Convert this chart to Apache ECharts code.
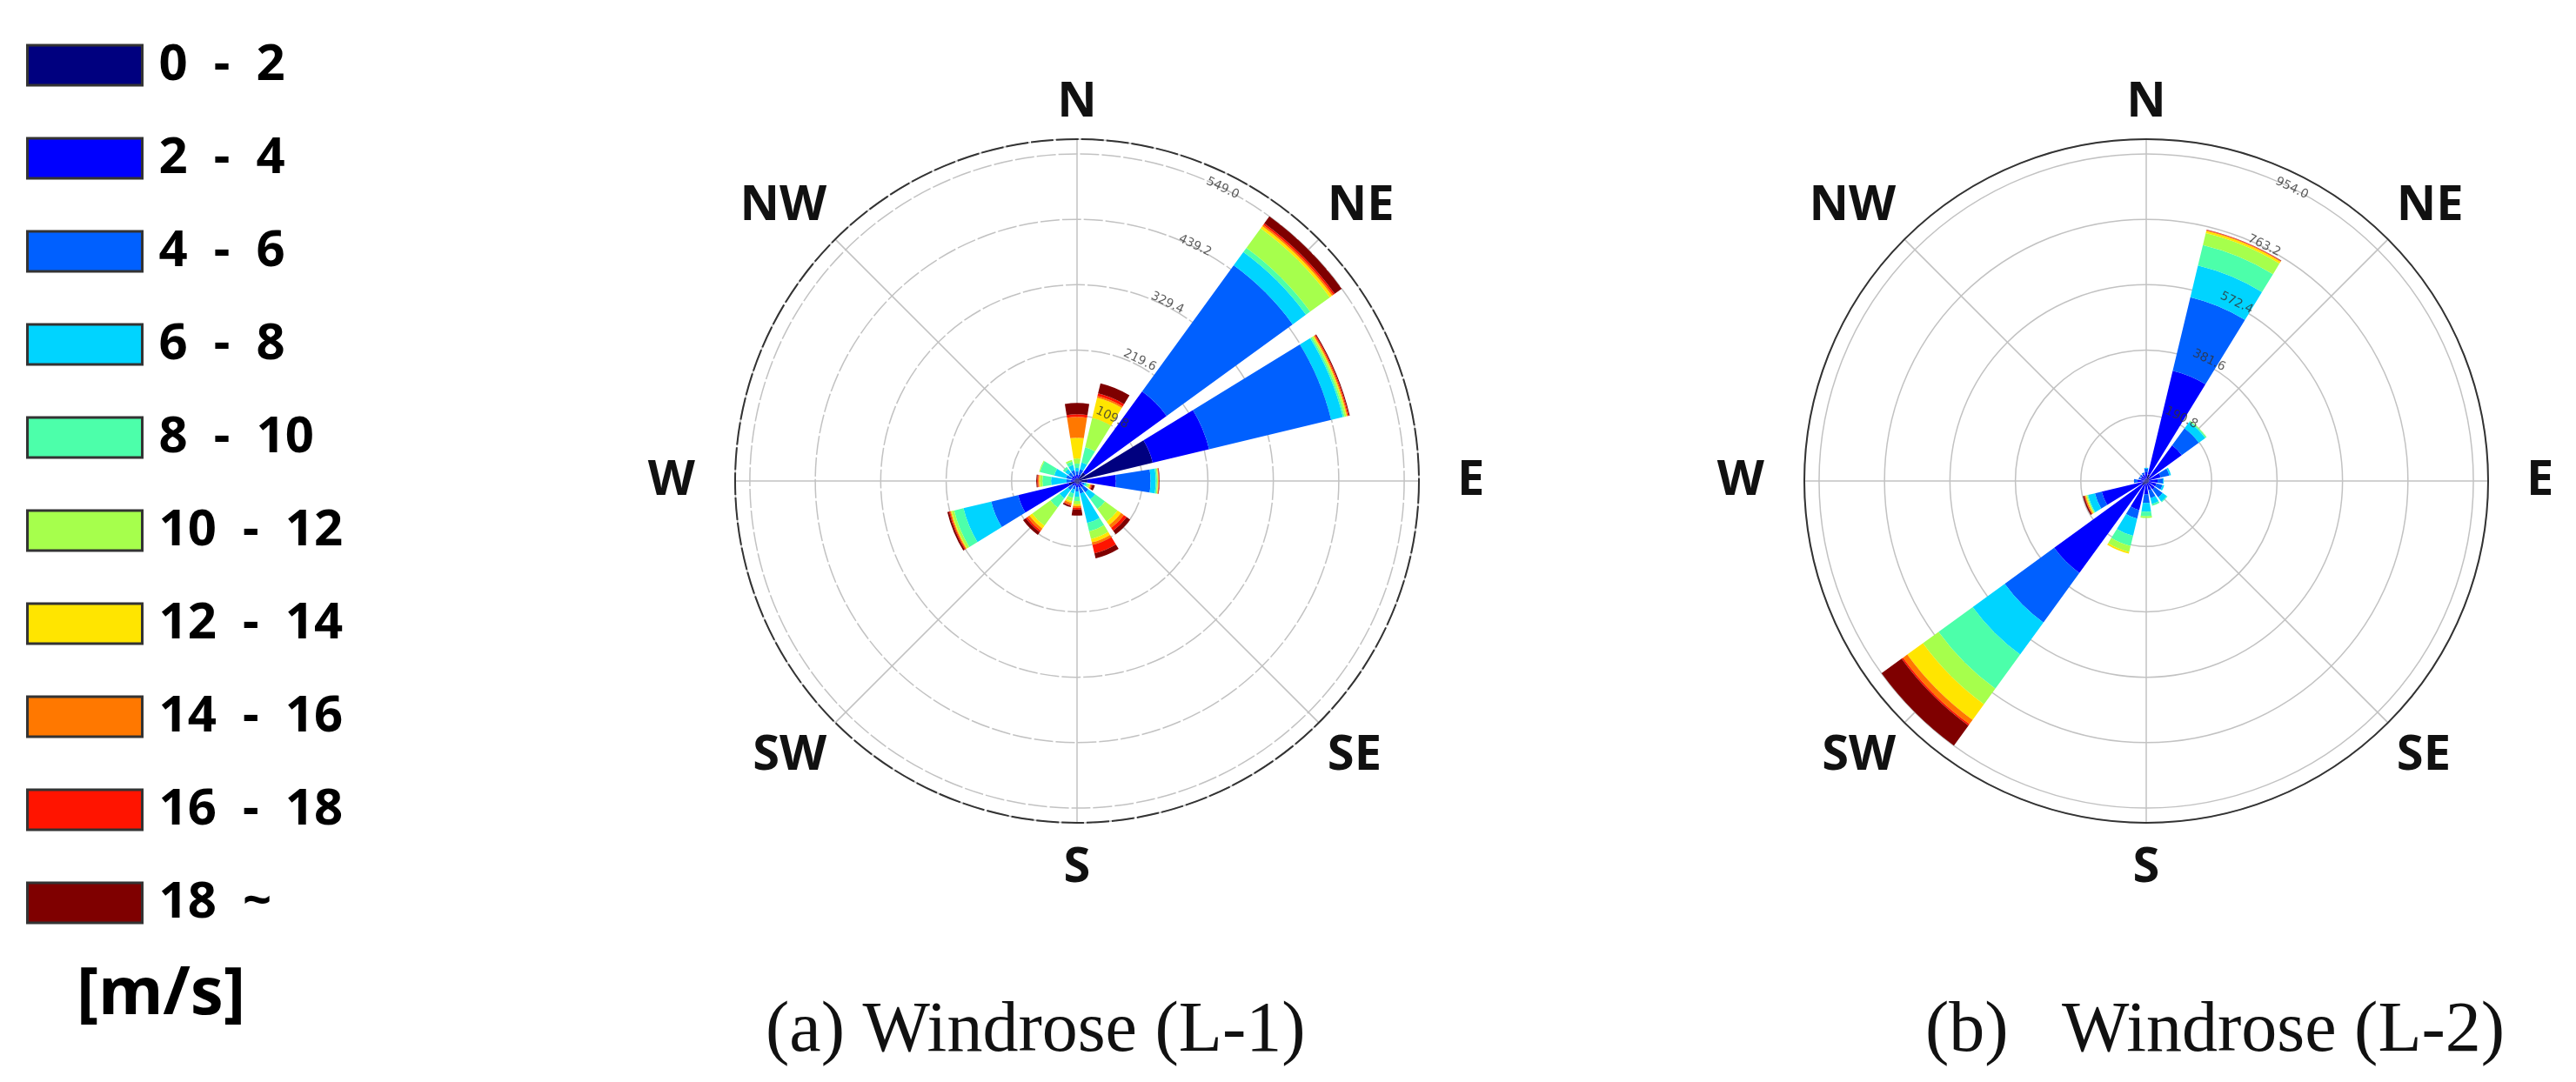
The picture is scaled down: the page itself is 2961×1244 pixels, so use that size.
<!DOCTYPE html>
<html>
<head>
<meta charset="utf-8">
<script src="https://cdn.jsdelivr.net/npm/echarts@6/dist/echarts.min.js"></script>
<style>
  html, body { margin: 0; padding: 0; background: #fff; }
  #chart { width: 2961px; height: 1244px; }
</style>
</head>
<body>
<div id="chart"></div>
<script>
// ---------- categories ----------
const dirs = ['N','NNE','NE','ENE','E','ESE','SE','SSE','S','SSW','SW','WSW','W','WNW','NW','NNW'];
const bins = ['0 - 2','2 - 4','4 - 6','6 - 8','8 - 10','10 - 12','12 - 14','14 - 16','16 - 18','18 ~'];
const binColors = ['#00007f','#0000ff','#0060ff','#00d4ff','#4cffaa','#a6ff4c','#ffe500','#ff7800','#ff1400','#7f0000'];

// ---------- Windrose (L-1): counts per speed bin, directions N..NNW ----------
const l1_b0 = [4.4, 4.4, 17.4, 130.7, 17.4, 4.4, 5.8, 5.8, 4.4, 4.4, 4.4, 14.5, 4.4, 4.4, 4.4, 4.4];
const l1_b1 = [5.8, 7.3, 168.5, 97.3, 47.9, 4.4, 7.3, 5.8, 5.8, 4.4, 5.8, 87.1, 5.8, 5.8, 5.8, 5.8];
const l1_b2 = [5.8, 8.7, 261.4, 210.6, 58.1, 4.4, 10.2, 10.2, 7.3, 5.8, 8.7, 46.5, 7.3, 8.7, 7.3, 8.7];
const l1_b3 = [5.8, 11.6, 27.6, 20.3, 8.7, 2.9, 14.5, 50.8, 8.7, 7.3, 17.4, 47.9, 26.1, 20.3, 7.3, 8.7];
const l1_b4 = [7.3, 26.1, 8.7, 2.9, 2.2, 2.9, 20.3, 14.5, 7.3, 7.3, 18.9, 16.0, 14.5, 24.7, 4.4, 5.8];
const l1_b5 = [8.7, 50.8, 40.7, 2.9, 1.5, 2.9, 26.1, 13.1, 5.8, 5.8, 37.8, 4.4, 4.4, 1.5, 0, 2.9];
const l1_b6 = [34.9, 34.9, 4.4, 1.5, 0.7, 1.5, 7.3, 5.8, 2.9, 2.9, 5.8, 1.5, 1.5, 0, 0, 0];
const l1_b7 = [34.9, 2.9, 2.9, 1.5, 0.7, 1.5, 5.8, 4.4, 2.9, 3.6, 4.4, 1.5, 1.5, 0, 0, 0];
const l1_b8 = [4.4, 4.4, 2.9, 1.5, 0.7, 1.5, 5.8, 14.5, 2.9, 1.5, 2.9, 1.5, 1.5, 0, 0, 0];
const l1_b9 = [18.9, 17.4, 14.5, 1.5, 0.7, 4.4, 7.3, 8.7, 10.2, 2.2, 5.8, 2.9, 1.5, 0, 0, 0];
const l1_ticks = [109.8, 219.6, 329.4, 439.2, 549.0];
const l1_tickLabels = ['109.8', '219.6', '329.4', '439.2', '549.0'];
const l1_max = 573.7;

// ---------- Windrose (L-2) ----------
const l2_b0 = [5.1, 20.5, 12.8, 7.7, 7.7, 7.7, 7.7, 7.7, 7.7, 10.3, 15.4, 10.3, 5.1, 5.1, 5.1, 5.1];
const l2_b1 = [20.5, 310.3, 115.4, 35.9, 25.6, 23.0, 23.0, 20.5, 30.8, 76.9, 316.3, 123.1, 20.5, 12.8, 12.8, 15.4];
const l2_b2 = [10.3, 220.5, 61.5, 25.6, 15.4, 17.9, 28.2, 23.0, 25.6, 25.6, 178.4, 20.5, 10.3, 5.1, 5.1, 5.1];
const l2_b3 = [2.6, 94.9, 23.1, 5.1, 2.6, 5.1, 15.4, 17.9, 25.6, 51.3, 115.4, 20.5, 0, 0, 0, 0];
const l2_b4 = [0, 61.5, 3.8, 0, 0, 0, 2.6, 5.1, 12.8, 30.8, 123.1, 2.6, 0, 0, 0, 0];
const l2_b5 = [0, 35.9, 1.3, 0, 0, 0, 0, 0, 5.1, 17.9, 56.4, 2.6, 0, 0, 0, 0];
const l2_b6 = [0, 6.4, 0, 0, 0, 0, 0, 0, 0.5, 5.1, 56.4, 2.6, 0, 0, 0, 0];
const l2_b7 = [0, 2.1, 0, 0, 0, 0, 0, 0, 0, 0, 15.4, 2.6, 0, 0, 0, 0];
const l2_b8 = [0, 1.0, 0, 0, 0, 0, 0, 0, 0, 0, 5.1, 1.3, 0, 0, 0, 0];
const l2_b9 = [0, 0.8, 0, 0, 0, 0, 0, 0, 0, 0, 72.1, 3.8, 0, 0, 0, 0];
const l2_ticks = [190.8, 381.6, 572.4, 763.2, 954.0];
const l2_tickLabels = ['190.8', '381.6', '572.4', '763.2', '954.0'];
const l2_max = 997.0;

const l1 = [l1_b0, l1_b1, l1_b2, l1_b3, l1_b4, l1_b5, l1_b6, l1_b7, l1_b8, l1_b9];
const l2 = [l2_b0, l2_b1, l2_b2, l2_b3, l2_b4, l2_b5, l2_b6, l2_b7, l2_b8, l2_b9];

// ---------- layout ----------
const R = 393;
const centers = [[1238, 553], [2467, 553]];
const SANS = 'Noto Sans';
const gridColor = '#c2c2c2';

function angleAxis(idx, dashed) {
  const lab = { fontSize: 56, fontWeight: 'bold', fontFamily: SANS, color: '#111' };
  return {
    polarIndex: idx, type: 'category', data: dirs, boundaryGap: true,
    startAngle: 90 + 180 / dirs.length, clockwise: true,
    axisLine: { show: true, lineStyle: { color: '#333', width: 2, type: dashed ? [26, 3] : 'solid' } },
    axisTick: { show: false, interval: 1, alignWithLabel: true },
    splitLine: { show: true, interval: 1, lineStyle: { color: gridColor, width: 1.5 } },
    axisLabel: Object.assign({
      interval: 1, margin: 14,
      formatter: v => v === 'E' ? '{e|E}' : (v === 'W' ? '{w|W}' : (v === 'S' ? '{s|S}' : v)),
      rich: {
        e: Object.assign({ padding: [0, 0, 0, 30] }, lab),
        w: Object.assign({ padding: [0, 32, 0, 0] }, lab),
        s: Object.assign({ padding: [10, 0, 0, 0] }, lab)
      }
    }, lab)
  };
}
function radiusAxis(idx, max, interval, dashed) {
  return {
    polarIndex: idx, type: 'value', min: 0, max: max, interval: interval,
    axisLine: { show: false }, axisTick: { show: false }, axisLabel: { show: false },
    splitLine: { show: true, lineStyle: { color: gridColor, width: 1.5, type: dashed ? [22, 3] : 'solid' } }
  };
}

const series = [];
[l1, l2].forEach((set, pi) => {
  set.forEach((vals, bi) => {
    series.push({
      type: 'bar', name: bins[bi], coordinateSystem: 'polar', polarIndex: pi,
      stack: 'rose' + pi, data: vals, barCategoryGap: '20%',
      itemStyle: { color: binColors[bi] }, silent: true
    });
  });
});

// radius tick labels, drawn at the tick values along the NNE direction
function tickLabelSeries(pi, ticks, labels, max) {
  const target = 26 * Math.PI / 180, base = 22.5 * Math.PI / 180;
  return {
    type: 'scatter', coordinateSystem: 'polar', polarIndex: pi, symbolSize: 0, silent: true, z: 10,
    data: ticks.map((t, i) => {
      const rp = t / max * R;
      const dx = (rp + 11) * Math.sin(target) - rp * Math.sin(base);
      const dy = -((rp + 11) * Math.cos(target) - rp * Math.cos(base));
      return { value: [t, 'NNE'], label: { offset: [dx, dy] }, name: labels[i] };
    }),
    label: {
      show: true, position: 'inside', formatter: p => p.name, rotate: -26,
      fontSize: 14, color: '#333', fontFamily: 'DejaVu Sans'
    }
  };
}
series.push(tickLabelSeries(0, l1_ticks, l1_tickLabels, l1_max));
series.push(tickLabelSeries(1, l2_ticks, l2_tickLabels, l2_max));

const option = {
  animation: false,
  backgroundColor: '#fff',
  polar: [
    { center: centers[0], radius: R },
    { center: centers[1], radius: R }
  ],
  angleAxis: [angleAxis(0, true), angleAxis(1, false)],
  radiusAxis: [radiusAxis(0, l1_max, 109.8, true), radiusAxis(1, l2_max, 190.8, false)],
  legend: {
    data: bins, orient: 'vertical', left: 25, top: 41,
    itemWidth: 132, itemHeight: 46, itemGap: 49, icon: 'rect', selectedMode: false,
    itemStyle: { borderColor: '#333', borderWidth: 3 },
    formatter: n => n.replace(' - ', '  -  ').replace(' ~', '  ~'),
    textStyle: { fontSize: 58, fontWeight: 'bold', fontFamily: SANS, color: '#000', padding: [0, 0, 0, 14] }
  },
  title: [
    { text: '[m/s]', left: 88, top: 1106, padding: 0,
      textStyle: { fontSize: 76, fontWeight: 'bold', fontFamily: SANS, color: '#000' } },
    { text: '(a) Windrose (L-1)', left: 880, top: 1145, padding: 0,
      textStyle: { fontSize: 82, fontWeight: 'normal', fontFamily: 'Liberation Serif', color: '#111' } },
    { text: '(b)   Windrose (L-2)', left: 2213, top: 1145, padding: 0,
      textStyle: { fontSize: 82, fontWeight: 'normal', fontFamily: 'Liberation Serif', color: '#111' } }
  ],
  series: series
};

const chart = echarts.init(document.getElementById('chart'));
chart.setOption(option);
</script>
</body>
</html>
